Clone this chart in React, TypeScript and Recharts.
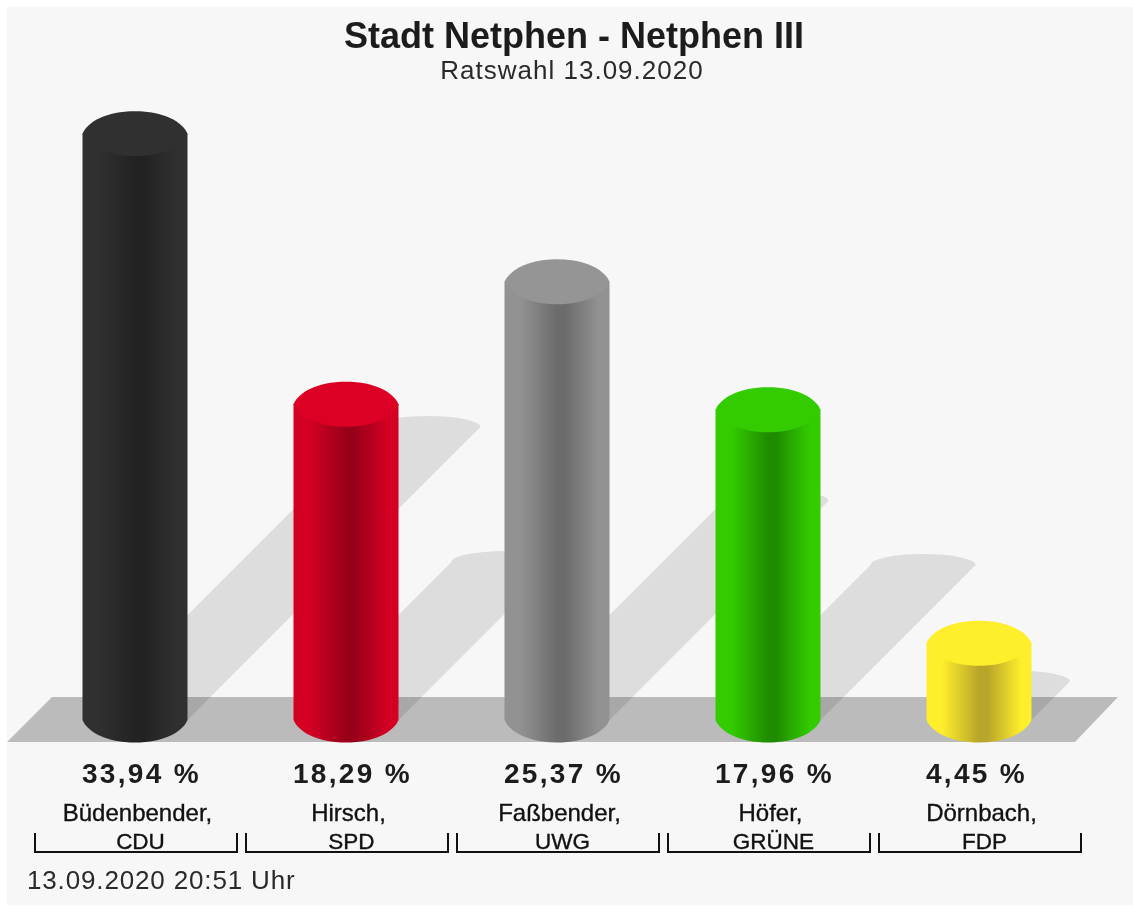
import { BarChart, Bar, XAxis, YAxis, LabelList } from 'recharts';

const candidates = ['Büdenbender,', 'Hirsch,', 'Faßbender,', 'Höfer,', 'Dörnbach,'];
const parties = ['CDU', 'SPD', 'UWG', 'GRÜNE', 'FDP'];
const shares = [33.94, 18.29, 25.37, 17.96, 4.45];

const data = parties.map((party, i) => ({
  party,
  candidate: candidates[i],
  share: shares[i],
}));

const palette = [
  { top: '#303030', edge: '#303030', mid: '#222222' },
  { top: '#dc0024', edge: '#d40024', mid: '#98001a' },
  { top: '#959595', edge: '#929292', mid: '#6c6c6c' },
  { top: '#33cc00', edge: '#33cc00', mid: '#1f8c00' },
  { top: '#ffee2b', edge: '#ffee2b', mid: '#b8a52a' },
];

const WIDTH = 1126;
const HEIGHT = 898;
const RY = 22.5;
const FONT = '"Liberation Sans", Arial, sans-serif';

// half of the cap, from left corner to right corner, just a bit fuller than a lens
function capArc(x: number, y: number, w: number, dir: number) {
  const cx = x + w / 2;
  const yy = y + dir * RY;
  return `C${x + 5},${y + dir * 12} ${x + 24},${yy} ${cx},${yy} C${x + w - 24},${yy} ${x + w - 5},${y + dir * 12} ${x + w},${y}`;
}

function Cylinder(props: any) {
  const { x, y, width, height, index } = props;
  const base = y + height;
  const rx = width / 2;
  // shadow is sheared 45 degrees, half the height of the bar
  const d = height / 2;
  const shadow = `M${x},${base} L${x + d},${base - d} A${rx},11 0 0 1 ${x + width + d},${base - d} L${x + width},${base} Z`;
  const body = `M${x},${y} V${base} ${capArc(x, base, width, 1)} V${y} Z`;
  const cap = `M${x},${y} ${capArc(x, y, width, -1)} C${x + width - 5},${y + 12} ${x + width - 24},${y + RY} ${x + rx},${y + RY} C${x + 24},${y + RY} ${x + 5},${y + 12} ${x},${y} Z`;
  return (
    <g>
      <path d={shadow} fill="#000" fillOpacity={0.1} />
      <path d={body} fill={`url(#cyl${index})`} />
      <path d={cap} fill={palette[index].top} />
    </g>
  );
}

function ValueLabel(props: any) {
  const { x, y, height, width, value } = props;
  return (
    <text
      x={x + width / 2 - 53}
      y={y + height + 63}
      fontFamily={FONT}
      fontWeight="bold"
      fontSize={28}
      letterSpacing={2.3}
      fill="#1c1c1c"
    >
      {value.toFixed(2).replace('.', ',')} %
    </text>
  );
}

function PartyTick(props: any) {
  const { x, y, index } = props;
  const textStyle = { fontFamily: FONT, fill: '#111', stroke: '#111', strokeWidth: 0.35 };
  return (
    <g>
      <text x={x + 2.5} y={y + 101} textAnchor="middle" fontSize={24} style={textStyle}>
        {candidates[index]}
      </text>
      <text x={x + 5.5} y={y + 129} textAnchor="middle" fontSize={22.5} style={textStyle}>
        {parties[index]}
      </text>
      <path
        d={`M${x - 100},${y + 113} V${y + 132} H${x + 102} V${y + 113}`}
        fill="none"
        stroke="#111"
        strokeWidth={2}
      />
    </g>
  );
}

export default function App() {
  return (
    <div
      style={{
        position: 'fixed',
        left: 7,
        top: 7,
        width: WIDTH,
        height: HEIGHT,
        background: '#f7f7f7',
        filter: 'blur(0.5px)',
      }}
    >
      <BarChart
        width={WIDTH}
        height={HEIGHT}
        data={data}
        margin={{ top: 108.55, right: 48.5, left: 22.5, bottom: 0 }}
      >
        <defs>
          {palette.map((c, i) => (
            <linearGradient key={i} id={`cyl${i}`} x1="0" y1="0" x2="1" y2="0">
              <stop offset="0" stopColor={c.edge} />
              <stop offset="0.15" stopColor={c.edge} />
              <stop offset="0.5" stopColor={c.mid} />
              <stop offset="0.58" stopColor={c.mid} />
              <stop offset="0.9" stopColor={c.edge} />
              <stop offset="1" stopColor={c.edge} />
            </linearGradient>
          ))}
        </defs>
        <polygon points="0,735 1068,735 1111,690 45,690" fill="#bbbbbb" />
        <text x={567} y={41} textAnchor="middle" fontFamily={FONT} fontWeight="bold" fontSize={36} fill="#1c1c1c">
          Stadt Netphen - Netphen III
        </text>
        <text x={565} y={72} textAnchor="middle" fontFamily={FONT} fontSize={26} letterSpacing={1} fill="#2a2a2a">
          Ratswahl 13.09.2020
        </text>
        <text x={20} y={882} fontFamily={FONT} fontSize={26} letterSpacing={0.85} fill="#2a2a2a">
          13.09.2020 20:51 Uhr
        </text>
        <XAxis
          dataKey="party"
          axisLine={false}
          tickLine={false}
          tickSize={0}
          tickMargin={0}
          height={185}
          interval={0}
          tick={<PartyTick />}
        />
        <YAxis hide domain={[0, 35]} />
        <Bar dataKey="share" barSize={105} isAnimationActive={false} shape={<Cylinder />}>
          <LabelList dataKey="share" content={<ValueLabel />} />
        </Bar>
      </BarChart>
    </div>
  );
}
